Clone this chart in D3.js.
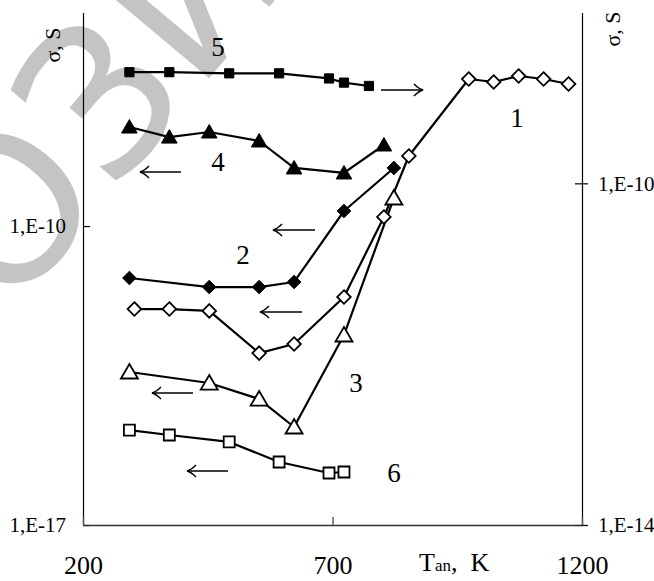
<!DOCTYPE html>
<html>
<head>
<meta charset="utf-8">
<script src="https://cdn.jsdelivr.net/npm/d3@7"></script>
<style>
  body { margin: 0; background: #fff; }
  svg text { font-family: "Liberation Serif", "DejaVu Serif", serif; fill: #000; }
</style>
</head>
<body>
<svg id="chart" width="654" height="581"></svg>
<script>
// Annealing temperatures, K
const temp1 = [303, 373, 453, 553, 623, 723, 803, 853, 973, 1023, 1073, 1123, 1173];
const temp2 = [293, 453, 553, 623, 723, 823];
const temp3 = [293, 453, 553, 623, 723, 823];
const temp4 = [293, 373, 453, 553, 623, 723, 803];
const temp5 = [293, 373, 493, 593, 693, 723, 773];
const temp6 = [293, 373, 493, 593, 693, 723];

// Conductivity sigma, S
const sigma1 = [1.14e-12, 1.14e-12, 1.03e-12, 1.06e-13, 1.73e-13, 2.18e-12, 1.63e-10, 4.37e-9, 2.77e-7, 2.36e-7, 3.26e-7, 2.77e-7, 2.12e-7];
const sigma2 = [6.07e-12, 3.73e-12, 3.73e-12, 4.9e-12, 2.25e-10, 2.29e-9];
const sigma3 = [3.82e-14, 2.11e-14, 8.9e-15, 1.97e-15, 2.81e-13, 4.53e-10];
const sigma4 = [2.08e-8, 1.21e-8, 1.59e-8, 9.8e-9, 2.29e-9, 1.75e-9, 7.9e-9];
const sigma5 = [2.0e-9, 2.0e-9, 1.94e-9, 1.94e-9, 1.69e-9, 1.51e-9, 1.38e-9];   // right axis
const sigma6 = [1.67e-15, 1.28e-15, 8.8e-16, 2.99e-16, 1.65e-16, 1.74e-16];

// Axis ticks
const xTicks = [200, 700, 1200];
const yLeftTicks = [1e-17, 1e-10];
const yRightTicks = [1e-14, 1e-10];

const svg = d3.select("#chart");
const plot = { left: 83, right: 582, top: 12.5, bottom: 525 };

const x = d3.scaleLinear().domain([200, 1200]).range([plot.left, plot.right]);
const yL = d3.scaleLog().domain([1e-17, 1e-5]).range([plot.bottom, plot.top]);
const yR = d3.scaleLog().domain([1e-14, 1e-8]).range([plot.bottom, plot.top]);

// Watermark behind the chart
svg.append("text")
  .attr("transform", "translate(8,318) rotate(-50)")
  .attr("font-size", 205)
  .style("font-family", "DejaVu Sans")
  .style("fill", "#c4c4c4")
  .text("ОЗИ");

const fmt = d => "1,E" + Math.round(Math.log10(d));

// Left axis: tick points inward, label to the left
const gL = svg.append("g").attr("transform", `translate(${plot.left},0)`)
  .call(d3.axisLeft(yL).tickValues(yLeftTicks).tickFormat(fmt)
    .tickSizeInner(-7).tickSizeOuter(0).tickPadding(17));
gL.select(".domain").attr("stroke", "#000").attr("stroke-width", 1.2);
gL.selectAll("line").attr("stroke", "#000").attr("stroke-width", 1.2);
gL.selectAll("text").attr("font-size", 21).style("font-family", "Liberation Serif");

// Right axis: tick crosses the line
const gR = svg.append("g").attr("transform", `translate(${plot.right},0)`)
  .call(d3.axisRight(yR).tickValues(yRightTicks).tickFormat(fmt)
    .tickSizeInner(6).tickSizeOuter(0).tickPadding(10));
gR.select(".domain").attr("stroke", "#000").attr("stroke-width", 1.2);
gR.selectAll("line").attr("x1", -7).attr("stroke", "#000").attr("stroke-width", 1.2);
gR.selectAll("text").attr("font-size", 21).style("font-family", "Liberation Serif");

// Bottom axis: tick points up into the plot
const gB = svg.append("g").attr("transform", `translate(0,${plot.bottom})`)
  .call(d3.axisBottom(x).tickValues(xTicks).tickFormat(d3.format("d"))
    .tickSizeInner(-8).tickSizeOuter(0).tickPadding(31));
gB.select(".domain").attr("stroke", "#333").attr("stroke-width", 1.4);
gB.selectAll("line").attr("stroke", "#555").attr("stroke-width", 1.4);
gB.selectAll("text").attr("font-size", 26).style("font-family", "Liberation Serif");

// Axis titles
[[52, 45], [612, 29]].forEach(([cx, cy]) => {
  svg.append("text")
    .attr("transform", `translate(${cx},${cy}) rotate(-90)`)
    .attr("text-anchor", "middle").attr("dominant-baseline", "central")
    .attr("font-size", 22)
    .text("σ, S");
});
const tl = svg.append("text").attr("x", 419).attr("y", 571).attr("font-size", 26)
  .style("white-space", "pre");
tl.append("tspan").text("T");
tl.append("tspan").attr("font-size", 17).text("an");
tl.append("tspan").text(",\u00a0\u00a0K");

// Series table
const series = [
  { T: temp6, v: sigma6, y: yL, marker: "openSquare" },
  { T: temp3, v: sigma3, y: yL, marker: "openTriangle" },
  { T: temp1, v: sigma1, y: yL, marker: "openDiamond" },
  { T: temp2, v: sigma2, y: yL, marker: "filledDiamond" },
  { T: temp4, v: sigma4, y: yL, marker: "filledTriangle" },
  { T: temp5, v: sigma5, y: yR, marker: "filledSquare" }
];

const markerPath = {
  openSquare: "M-5.5,-5.5H5.5V5.5H-5.5Z",
  filledSquare: "M-4.6,-4.6H4.6V4.6H-4.6Z",
  openDiamond: "M0,-6.8L6.8,0L0,6.8L-6.8,0Z",
  filledDiamond: "M0,-6.8L6.8,0L0,6.8L-6.8,0Z",
  openTriangle: "M0,-8L8.5,6.5L-8.5,6.5Z",
  filledTriangle: "M0,-7.5L7.8,6L-7.8,6Z"
};
const filled = m => m.startsWith("filled");

series.forEach(s => {
  const pts = s.T.map((t, i) => [x(t), s.y(s.v[i])]);
  svg.append("path")
    .attr("d", d3.line()(pts))
    .attr("fill", "none").attr("stroke", "#000").attr("stroke-width", 2.2)
    .attr("stroke-linejoin", "round");
});
series.forEach(s => {
  s.T.forEach((t, i) => {
    svg.append("path")
      .attr("transform", `translate(${x(t)},${s.y(s.v[i])})`)
      .attr("d", markerPath[s.marker])
      .attr("fill", filled(s.marker) ? "#000" : "#fff")
      .attr("stroke", "#000").attr("stroke-width", filled(s.marker) ? 1 : 1.8)
      .attr("stroke-linejoin", "miter");
  });
});

// Curve numbers
const curveLabels = [
  { t: "1", cx: 517, cy: 118 }, { t: "2", cx: 243, cy: 255 }, { t: "3", cx: 356, cy: 383 },
  { t: "4", cx: 218, cy: 162 }, { t: "5", cx: 218, cy: 47 }, { t: "6", cx: 394, cy: 473 }
];
curveLabels.forEach(l => {
  svg.append("text").attr("x", l.cx).attr("y", l.cy)
    .attr("text-anchor", "middle").attr("dominant-baseline", "central")
    .attr("font-size", 27).text(l.t);
});

// Arrows showing which axis each curve belongs to
const arrows = [
  { x1: 381, x2: 423, y: 90, dir: 1 },
  { x1: 140, x2: 181, y: 172, dir: -1 },
  { x1: 273, x2: 315, y: 230, dir: -1 },
  { x1: 260, x2: 302, y: 312, dir: -1 },
  { x1: 152, x2: 193, y: 393, dir: -1 },
  { x1: 187, x2: 228, y: 471, dir: -1 }
];
arrows.forEach(a => {
  const g = svg.append("g").attr("stroke", "#000").attr("fill", "none").attr("stroke-width", 1.5);
  g.append("line").attr("x1", a.x1).attr("x2", a.x2).attr("y1", a.y).attr("y2", a.y);
  const tip = a.dir > 0 ? a.x2 : a.x1;
  const back = tip - a.dir * 9;
  g.append("path").attr("d", `M${back},${a.y - 6}Q${tip - a.dir * 4},${a.y - 1} ${tip},${a.y}Q${tip - a.dir * 4},${a.y + 1} ${back},${a.y + 6}`);
});
</script>
</body>
</html>
